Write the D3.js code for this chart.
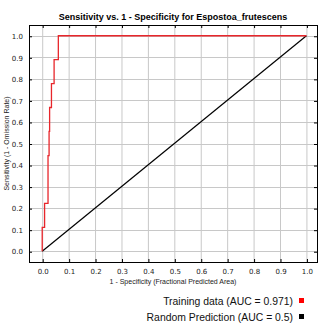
<!DOCTYPE html>
<html><head><meta charset="utf-8">
<script src="https://cdn.jsdelivr.net/npm/d3@7"></script>
<style>body{margin:0;background:#fff;}svg{display:block;font-family:"Liberation Sans",Arial,sans-serif;}</style>
</head><body>
<svg id="c" width="331" height="328"></svg>
<script>
const title = "Sensitivity vs. 1 - Specificity for Espostoa_frutescens";
const xLabel = "1 - Specificity (Fractional Predicted Area)";
const yLabel = "Sensitivity (1 - Omission Rate)";
const tickValues = [0,0.1,0.2,0.3,0.4,0.5,0.6,0.7,0.8,0.9,1.0];
const trainFpr = [0,0,0.009,0.009,0.022,0.022,0.026,0.026,0.028,0.028,0.035,0.035,0.045,0.045,0.061,0.061,1.0];
const trainTpr = [0,0.111,0.111,0.222,0.222,0.444,0.444,0.556,0.556,0.667,0.667,0.778,0.778,0.889,0.889,1.0,1.0];
const randFpr = [0,1];
const randTpr = [0,1];
const legendLabels = ["Training data (AUC = 0.971)","Random Prediction (AUC = 0.5)"];
const legendColors = ["#ff0000","#000000"];
const lineColors = ["#e8262b","#000000"];

const svg = d3.select("#c");
const x = d3.scaleLinear().domain([-0.05,1.04]).range([29,317]);
const y = d3.scaleLinear().domain([-0.05,1.05]).range([262,25]);
const L = x.range()[0], R = x.range()[1], T = y.range()[1], B = y.range()[0];

// grid
const grid = svg.append("g");
grid.selectAll("line.v").data(tickValues).join("line")
  .attr("x1",d=>x(d)+0.5).attr("x2",d=>x(d)+0.5).attr("y1",T).attr("y2",B)
  .attr("stroke","#c8c8c8").attr("stroke-width",1);
grid.selectAll("line.h").data(tickValues).join("line")
  .attr("y1",d=>Math.round(y(d))+0.5).attr("y2",d=>Math.round(y(d))+0.5).attr("x1",L).attr("x2",R)
  .attr("stroke","#c8c8c8").attr("stroke-width",1);

// axes (labels + inner ticks)
const fmt = d3.format(".1f");
const xAxis = svg.append("g").attr("transform",`translate(0.5,${B})`)
  .call(d3.axisBottom(x).tickValues(tickValues).tickFormat(fmt).tickSizeInner(-3).tickSizeOuter(0).tickPadding(7));
const yAxis = svg.append("g").attr("transform",`translate(${L},0.5)`)
  .call(d3.axisLeft(y).tickValues(tickValues).tickFormat(fmt).tickSizeInner(-3).tickSizeOuter(0).tickPadding(6));
const xAxisT = svg.append("g").attr("transform",`translate(0.5,${T})`)
  .call(d3.axisTop(x).tickValues(tickValues).tickFormat("").tickSizeInner(-3).tickSizeOuter(0));
const yAxisR = svg.append("g").attr("transform",`translate(${R},0.5)`)
  .call(d3.axisRight(y).tickValues(tickValues).tickFormat("").tickSizeInner(-3).tickSizeOuter(0));
[xAxis,yAxis,xAxisT,yAxisR].forEach(g=>{g.select(".domain").remove();
  g.selectAll("text").attr("font-size",7).attr("fill","#222").attr("font-family","'DejaVu Sans',sans-serif");});

// lines
const lineGen = d3.line().x(d=>x(d[0])).y(d=>y(d[1]));
svg.append("path").datum(randFpr.map((v,i)=>[v,randTpr[i]]))
  .attr("d",lineGen).attr("fill","none").attr("stroke",lineColors[1]).attr("stroke-width",1.2);
svg.append("path").datum(trainFpr.map((v,i)=>[v,trainTpr[i]]))
  .attr("d",lineGen).attr("fill","none").attr("stroke",lineColors[0]).attr("stroke-width",1.3);

// frame
svg.append("rect").attr("x",L+0.5).attr("y",T+0.5).attr("width",R-L).attr("height",B-T)
  .attr("fill","none").attr("stroke","#000").attr("stroke-width",1);

// title & labels
svg.append("text").attr("x",(L+R)/2).attr("y",20).attr("text-anchor","middle")
  .attr("font-size",9).attr("font-weight","bold").text(title);
svg.append("text").attr("x",(L+R)/2).attr("y",284).attr("text-anchor","middle")
  .attr("font-size",7).attr("fill","#222").text(xLabel);
svg.append("text").attr("transform",`translate(9,${(T+B)/2}) rotate(-90)`).attr("text-anchor","middle")
  .attr("font-size",7).attr("fill","#222").text(yLabel);

// legend
const lg = svg.append("g");
legendLabels.forEach((t,i)=>{
  const yy = 305 + i*16;
  lg.append("text").attr("x",293).attr("y",yy).attr("text-anchor","end")
    .attr("font-size",10.4).attr("fill","#111").text(t);
  lg.append("rect").attr("x",299).attr("y",yy-7).attr("width",5).attr("height",5).attr("fill",legendColors[i]);
});
</script>
</body></html>
